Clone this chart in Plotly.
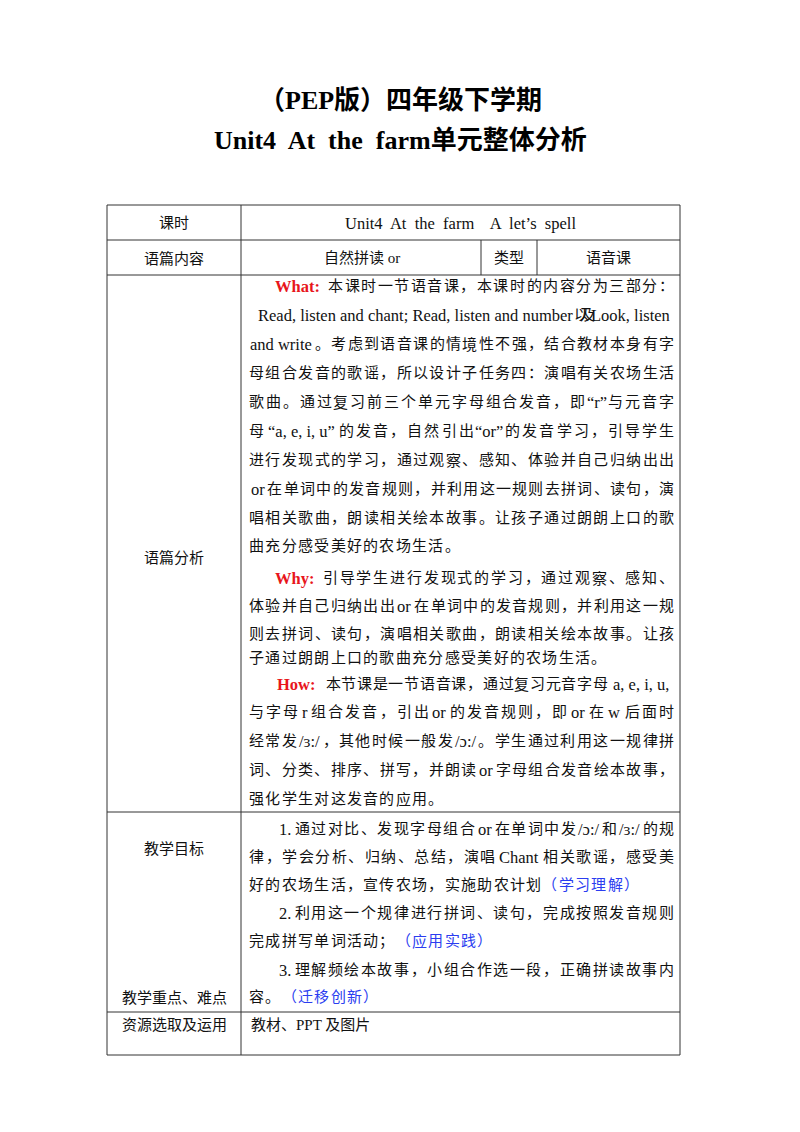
import plotly.graph_objects as go

FONT = "Liberation Serif, Noto Sans CJK SC"
RED, BLUE, BLACK = "#e8161b", "#2b3df0", "#111111"

title_lines = ["（PEP版）四年级下学期", "Unit4  At  the  farm单元整体分析"]
title_y = [100, 140]

# table grid (pixel coordinates of the page)
col_x = [107, 241, 680]
row_y = [205, 240, 275, 812, 1012, 1055]
type_cols = [481, 537]

left_labels = ["课时", "语篇内容", "语篇分析", "教学目标", "教学重点、难点", "资源选取及运用"]
left_label_y = [223, 258, 557, 849, 998, 1025]
row1_text = "Unit4  At  the  farm    A  let’s  spell"
row2_texts = ["自然拼读 or", "类型", "语音课"]
row2_x = [362, 509, 608]

# paragraph lines: (indent flag, segments, justified)
para_lines = [
    (1, [("What:", "r"), ("本课时一节语音课，本课时的内容分为三部分：", "k")], True),
    (0, [("Read, listen and chant; Read, listen and number 以及 Look, listen", "k")], True),
    (0, [("and write。考虑到语音课的情境性不强，结合教材本身有字", "k")], True),
    (0, [("母组合发音的歌谣，所以设计子任务四：演唱有关农场生活", "k")], True),
    (0, [("歌曲。通过复习前三个单元字母组合发音，即“r”与元音字", "k")], True),
    (0, [("母“a, e, i, u”的发音，自然引出“or”的发音学习，引导学生", "k")], True),
    (0, [("进行发现式的学习，通过观察、感知、体验并自己归纳出出", "k")], True),
    (0, [("or 在单词中的发音规则，并利用这一规则去拼词、读句，演", "k")], True),
    (0, [("唱相关歌曲，朗读相关绘本故事。让孩子通过朗朗上口的歌", "k")], True),
    (0, [("曲充分感受美好的农场生活。", "k")], False),
    (1, [("Why:", "r"), ("引导学生进行发现式的学习，通过观察、感知、", "k")], True),
    (0, [("体验并自己归纳出出 or 在单词中的发音规则，并利用这一规", "k")], True),
    (0, [("则去拼词、读句，演唱相关歌曲，朗读相关绘本故事。让孩", "k")], True),
    (0, [("子通过朗朗上口的歌曲充分感受美好的农场生活。", "k")], False),
    (1, [("How:", "r"), ("本节课是一节语音课，通过复习元音字母 a, e, i, u,", "k")], True),
    (0, [("与字母 r 组合发音，引出 or 的发音规则，即 or 在 w 后面时", "k")], True),
    (0, [("经常发/ɜ:/，其他时候一般发/ɔ:/。学生通过利用这一规律拼", "k")], True),
    (0, [("词、分类、排序、拼写，并朗读 or 字母组合发音绘本故事，", "k")], True),
    (0, [("强化学生对这发音的应用。", "k")], False),
]
para_y = [286, 315, 344, 373, 402, 431, 460, 489, 518, 546,
          578, 606, 634, 658, 684, 712, 741, 770, 799]

goal_lines = [
    (1, [("1. 通过对比、发现字母组合 or 在单词中发/ɔ:/和/ɜ:/的规", "k")], True),
    (0, [("律，学会分析、归纳、总结，演唱 Chant 相关歌谣，感受美", "k")], True),
    (0, [("好的农场生活，宣传农场，实施助农计划", "k"), ("（学习理解）", "b")], False),
    (1, [("2. 利用这一个规律进行拼词、读句，完成按照发音规则", "k")], True),
    (0, [("完成拼写单词活动；", "k"), ("（应用实践）", "b")], False),
    (1, [("3. 理解频绘本故事，小组合作选一段，正确拼读故事内", "k")], True),
    (0, [("容。", "k"), ("（迁移创新）", "b")], False),
]
goal_y = [829, 857, 885, 913, 941, 970, 997]
resource_text = "教材、PPT 及图片"

FS = 15
LFS = 16.5
LINE_X0, LINE_X1, INDENT = 249, 674, 27
CJK_GAP = 1.3
OFF = 8  # page body margin of the html document


def is_cjk(ch):
    o = ord(ch)
    return o >= 0x2E80 and not (0x2018 <= o <= 0x201D)


def latin_w(s, bold=False):
    w = 0
    for c in s:
        if c == " ":
            w += 0.25
        elif c in "ilj,.;:'’!|/tfr":
            w += 0.3
        elif c in "mwMW":
            w += 0.8
        elif c.isupper():
            w += 0.7
        elif c in "“”":
            w += 0.44
        else:
            w += 0.49
    return w * LFS * (1.08 if bold else 1.0)


def tokens(segs):
    out = []
    for text, st in segs:
        buf = ""
        for ch in text:
            if is_cjk(ch):
                if buf:
                    out.append((buf, st, False))
                    buf = ""
                out.append((ch, st, True))
            else:
                buf += ch
        if buf:
            out.append((buf, st, False))
    res = []
    for t, st, c in out:
        if c:
            res.append((t, FS, st, c))
        else:
            s = t.strip(" ")
            if not s:
                continue
            w = latin_w(s, st == "r") + (4 if t != s else 0) + (8 if st == "r" else 0)
            res.append((s, w, st, c))
    return res


annotations = []
COL = {"k": BLACK, "r": RED, "b": BLUE}


def place_line(indent, segs, justify, y):
    toks = tokens(segs)
    x0 = LINE_X0 + (INDENT if indent else 0)
    total = sum(w for _, w, _, _ in toks)
    n = len(toks)
    gap = (LINE_X1 - x0 - total) / (n - 1) if (justify and n > 1) else CJK_GAP
    x = x0
    for t, w, st, c in toks:
        txt = f"<b>{t}</b>" if st == "r" else t
        cx = x + (w - 8) / 2 if st == "r" else x + w / 2
        annotations.append(dict(x=cx, y=y, text=txt, showarrow=False,
                                xanchor="center", yanchor="middle",
                                font=dict(family=FONT, size=FS if c else LFS, color=COL[st])))
        x += w + gap


for (ind, segs, j), y in zip(para_lines, para_y):
    place_line(ind, segs, j, y)
for (ind, segs, j), y in zip(goal_lines, goal_y):
    place_line(ind, segs, j, y)

for t, y in zip(title_lines, title_y):
    annotations.append(dict(x=400, y=y, text=f"<b>{t}</b>", showarrow=False,
                            font=dict(family=FONT, size=26, color="#000")))

for t, y in zip(left_labels, left_label_y):
    annotations.append(dict(x=(col_x[0] + col_x[1]) / 2, y=y, text=t, showarrow=False,
                            font=dict(family=FONT, size=FS, color=BLACK)))

annotations.append(dict(x=(col_x[1] + col_x[2]) / 2, y=223, text=row1_text, showarrow=False,
                        font=dict(family=FONT, size=LFS, color=BLACK)))
for t, x in zip(row2_texts, row2_x):
    annotations.append(dict(x=x, y=258, text=t, showarrow=False,
                            font=dict(family=FONT, size=FS, color=BLACK)))
annotations.append(dict(x=LINE_X0, y=1025, text=resource_text, showarrow=False, xanchor="left",
                        font=dict(family=FONT, size=FS, color=BLACK)))

shapes = []
ln = dict(color="#333", width=1)
for y in row_y:
    shapes.append(dict(type="line", x0=col_x[0], x1=col_x[2], y0=y, y1=y, line=ln))
for x in col_x:
    shapes.append(dict(type="line", x0=x, x1=x, y0=row_y[0], y1=row_y[-1], line=ln))
for x in type_cols:
    shapes.append(dict(type="line", x0=x, x1=x, y0=row_y[1], y1=row_y[2], line=ln))

fig = go.Figure()
fig.update_layout(width=800, height=1132, margin=dict(l=0, r=0, t=0, b=0),
                  paper_bgcolor="white", plot_bgcolor="white",
                  xaxis=dict(range=[OFF, 800 + OFF], visible=False, fixedrange=True),
                  yaxis=dict(range=[1132 + OFF, OFF], visible=False, fixedrange=True),
                  shapes=shapes, annotations=annotations, showlegend=False)
fig.write_html("out.html", config={"displayModeBar": False})
